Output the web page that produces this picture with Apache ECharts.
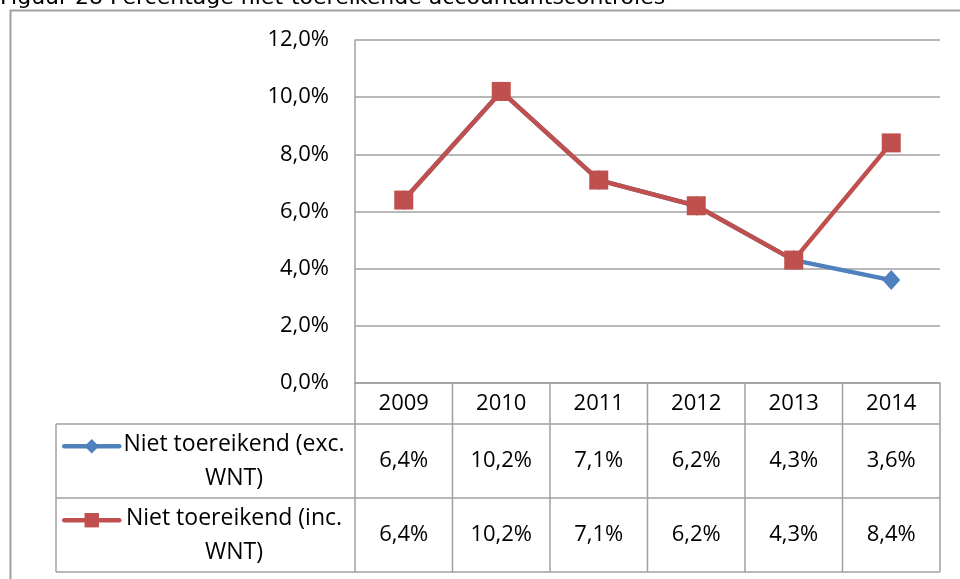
<!DOCTYPE html>
<html>
<head>
<meta charset="utf-8">
<script src="https://cdn.jsdelivr.net/npm/echarts@6/dist/echarts.min.js"></script>
<style>
  html, body { margin: 0; padding: 0; background: #fff; }
  #chart { width: 960px; height: 579px; }
</style>
</head>
<body>
<div id="chart"></div>
<script>
const title = 'Figuur 28 Percentage niet-toereikende accountantscontroles'
const years = ['2009', '2010', '2011', '2012', '2013', '2014']
const excName = 'Niet toereikend (exc. WNT)'
const incName = 'Niet toereikend (inc. WNT)'
const excWnt = [6.4, 10.2, 7.1, 6.2, 4.3, 3.6]
const incWnt = [6.4, 10.2, 7.1, 6.2, 4.3, 8.4]
const legendLines = [['Niet toereikend (exc.', 'WNT)'], ['Niet toereikend (inc.', 'WNT)']]

const BLUE = '#4F81BD'
const RED = '#C0504D'
const GREY = '#a0a0a0'
const FONT = 'Open Sans'
const FS = 22

function pct(v) {
  return v.toFixed(1).replace('.', ',') + '%'
}

const chart = echarts.init(document.getElementById('chart'))

chart.setOption({
  animation: false,
  textStyle: {fontFamily: FONT},
  grid: {left: 355, right: 20, top: 40, bottom: 196},
  legend: [
    {
      data: [excName], left: 57, top: 434, itemWidth: 55, itemHeight: 18,
      lineStyle: {width: 4.5}, formatter: () => ' ', selectedMode: false
    },
    {
      data: [incName], left: 57, top: 508, itemWidth: 55, itemHeight: 18,
      lineStyle: {width: 4.5}, formatter: () => ' ', selectedMode: false
    }
  ],
  xAxis: {
    type: 'category',
    data: years,
    boundaryGap: true,
    axisLine: {lineStyle: {color: GREY, width: 1.5}},
    axisTick: {show: false},
    axisLabel: {color: '#000', fontSize: FS, margin: 10, fontFamily: FONT}
  },
  yAxis: {
    type: 'value',
    min: 0,
    max: 12,
    interval: 2,
    axisLine: {show: true, lineStyle: {color: GREY, width: 1.5}},
    axisTick: {show: false},
    splitLine: {lineStyle: {color: GREY, width: 1.5}},
    axisLabel: {color: '#000', fontSize: FS, margin: 26, fontFamily: FONT, formatter: pct}
  },
  series: [
    {
      name: excName, type: 'line', data: excWnt,
      symbol: 'diamond', symbolSize: [18, 20],
      lineStyle: {color: BLUE, width: 4.5, cap: 'round'},
      itemStyle: {color: BLUE}
    },
    {
      name: incName, type: 'line', data: incWnt,
      symbol: 'rect', symbolSize: 19,
      lineStyle: {color: RED, width: 4.5, cap: 'round'},
      itemStyle: {color: RED}
    }
  ]
})

// data table under the axis, laid out from the axis' own pixel positions
function buildTable() {
  const cx = years.map(y => chart.convertToPixel({xAxisIndex: 0}, y))
  const band = cx[1] - cx[0]
  const xl = cx[0] - band / 2
  const xr = cx[cx.length - 1] + band / 2
  const y0 = chart.convertToPixel({yAxisIndex: 0}, 0)
  const rowTop = y0 + 41
  const rowH = 74
  const tableLeft = 56
  const bottom = rowTop + rowH * 2
  const els = []
  const line = (x1, y1, x2, y2) => els.push({
    type: 'line', shape: {x1, y1, x2, y2}, style: {stroke: GREY, lineWidth: 1.5}, silent: true
  })
  const text = (x, y, t, size) => els.push({
    type: 'text', x, y, silent: true,
    style: {text: t, fill: '#000', font: (size || FS) + 'px "' + FONT + '"', align: 'center', verticalAlign: 'middle'}
  })

  for (let i = 0; i <= years.length; i++) {
    line(xl + band * i, y0, xl + band * i, bottom)
  }
  line(tableLeft, rowTop, xr, rowTop)
  line(tableLeft, rowTop + rowH, xr, rowTop + rowH)
  line(tableLeft, bottom, xr, bottom)
  line(tableLeft, rowTop, tableLeft, bottom)

  const rows = [excWnt, incWnt]
  rows.forEach((vals, r) => {
    const yc = rowTop + rowH * r + rowH / 2
    vals.forEach((v, i) => text(cx[i], yc, pct(v)))
    text(234, yc - 17, legendLines[r][0], 23)
    text(234, yc + 17, legendLines[r][1], 23)
  })

  // outer frame and caption
  els.push({
    type: 'rect', shape: {x: 10.5, y: 10.5, width: 1000, height: 700},
    style: {fill: null, stroke: GREY, lineWidth: 2}, silent: true
  })
  els.push({
    type: 'text', x: 0, y: 9, silent: true,
    style: {text: title, fill: '#000', font: '22px "DejaVu Sans"', align: 'left', verticalAlign: 'bottom'}
  })
  chart.setOption({graphic: {elements: els}})
}

buildTable()
</script>
</body>
</html>
